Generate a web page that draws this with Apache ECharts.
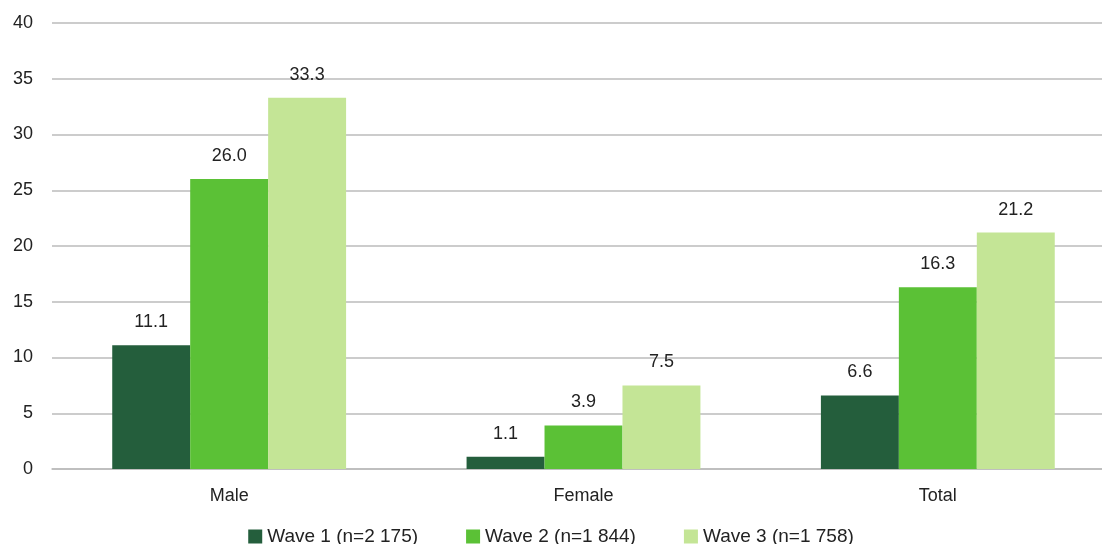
<!DOCTYPE html>
<html>
<head>
<meta charset="utf-8">
<script src="https://cdn.jsdelivr.net/npm/echarts@6/dist/echarts.min.js"></script>
<style>
  html, body { margin: 0; padding: 0; background: #fff; }
  #main { width: 1102px; height: 544px; }
</style>
</head>
<body>
<div id="main"></div>
<script>
const categories = ['Male', 'Female', 'Total'];
const seriesNames = ['Wave 1 (n=2 175)', 'Wave 2 (n=1 844)', 'Wave 3 (n=1 758)'];
const wave1 = [11.1, 1.1, 6.6];
const wave2 = [26.0, 3.9, 16.3];
const wave3 = [33.3, 7.5, 21.2];
const colors = ['#245E3C', '#5BC136', '#C4E596'];

const font = '"Liberation Sans", Arial, Helvetica, sans-serif';

const chart = echarts.init(document.getElementById('main'));

function makeSeries(name, data, color) {
  return {
    name: name,
    type: 'bar',
    data: data,
    barGap: '0%',
    barCategoryGap: '34%',
    itemStyle: { color: color },
    label: {
      show: true,
      position: 'top',
      distance: 14,
      color: '#222',
      fontSize: 18,
      fontFamily: font,
      formatter: p => p.value.toFixed(1)
    }
  };
}

const option = {
  animation: false,
  textStyle: { fontFamily: font },
  legend: {
    top: 522,
    left: 'center',
    itemWidth: 14,
    itemHeight: 14,
    itemGap: 48,
    icon: 'rect',
    textStyle: { color: '#222', fontSize: 19, fontFamily: font },
    data: seriesNames
  },
  grid: {
    left: 52,
    width: 1063,
    top: 23,
    bottom: 75,
    outerBoundsMode: 'none'
  },
  xAxis: {
    type: 'category',
    data: categories,
    axisLine: { lineStyle: { color: '#BBBBBB', width: 1.5 } },
    axisTick: { show: false },
    axisLabel: { color: '#222', fontSize: 18, margin: 18, fontFamily: font }
  },
  yAxis: {
    type: 'value',
    min: 0,
    max: 40,
    interval: 5,
    axisLine: { show: false },
    axisTick: { show: false },
    splitLine: { lineStyle: { color: '#BBBBBB', width: 1.5 } },
    axisLabel: { color: '#222', fontSize: 18, margin: 19, fontFamily: font }
  },
  series: [
    makeSeries(seriesNames[0], wave1, colors[0]),
    makeSeries(seriesNames[1], wave2, colors[1]),
    makeSeries(seriesNames[2], wave3, colors[2])
  ]
};

chart.setOption(option);
window.addEventListener('resize', function () {
  chart.resize();
});
</script>
</body>
</html>
